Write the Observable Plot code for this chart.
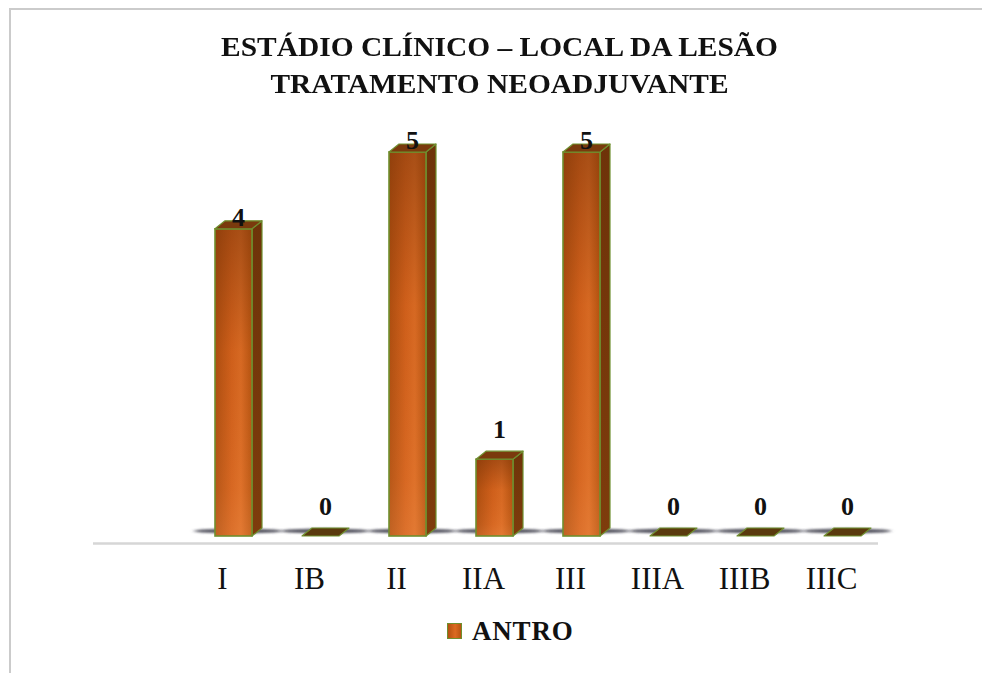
<!DOCTYPE html>
<html>
<head>
<meta charset="utf-8">
<script src="https://cdn.jsdelivr.net/npm/d3@7"></script>
<script src="https://cdn.jsdelivr.net/npm/@observablehq/plot@0.6"></script>
<style>
  body { margin: 0; background: #fff; }
  #page { position: relative; width: 982px; height: 673px; overflow: hidden; background: #fff; }
  #frame { position: absolute; left: 9px; top: 8px; right: -4px; bottom: -4px;
           border-left: 2px solid #cbcbcb; border-top: 2px solid #cbcbcb; }
  #title { position: absolute; left: 0; width: 999px; top: 29px; text-align: center;
           font-family: "Liberation Serif", "Times New Roman", serif; font-weight: bold;
           font-size: 27px; line-height: 37px; color: #111;
           transform: scaleX(1.09); transform-origin: 499.5px 0; }
  #chart { position: absolute; left: 0; top: 110px; }
  #legend { position: absolute; left: 447px; top: 618px; height: 26px;
            font-family: "Liberation Serif", "Times New Roman", serif; font-weight: bold;
            font-size: 27px; line-height: 26px; color: #111; white-space: nowrap; }
  #legend .swatch { position: absolute; left: 0; top: 5px; width: 13px; height: 14px;
            border: 1.5px solid #6f8f2f;
            background: linear-gradient(90deg, #b4500f, #dc6a20 55%, #b85410); }
  #legend .label { position: absolute; left: 25px; top: 0; letter-spacing: 0.8px; }
</style>
</head>
<body>
<!-- shared paint for the 3D bars -->
<svg width="0" height="0" style="position:absolute">
  <defs>
    <linearGradient id="frontGrad" x1="0" y1="0" x2="1" y2="0">
      <stop offset="0" stop-color="#b04f10"/>
      <stop offset="0.45" stop-color="#d4621c"/>
      <stop offset="0.7" stop-color="#dc6c24"/>
      <stop offset="1" stop-color="#b85410"/>
    </linearGradient>
    <linearGradient id="frontShade" x1="0" y1="0" x2="0" y2="1">
      <stop offset="0" stop-color="#6a2c06" stop-opacity="0.45"/>
      <stop offset="0.4" stop-color="#6a2c06" stop-opacity="0.05"/>
      <stop offset="0.85" stop-color="#ffb070" stop-opacity="0.08"/>
      <stop offset="1" stop-color="#ffb070" stop-opacity="0.2"/>
    </linearGradient>
    <linearGradient id="sideGrad" x1="0" y1="0" x2="0" y2="1">
      <stop offset="0" stop-color="#6e3309"/>
      <stop offset="1" stop-color="#7e3c0c"/>
    </linearGradient>
    <filter id="softShadow" x="-20%" y="-200%" width="140%" height="500%">
      <feGaussianBlur stdDeviation="2 1.2"/>
    </filter>
  </defs>
</svg>

<div id="page">
  <div id="frame"></div>
  <div id="title">ESTÁDIO CLÍNICO – LOCAL DA LESÃO<br>TRATAMENTO NEOADJUVANTE</div>
  <div id="chart"></div>
  <div id="legend"><span class="swatch"></span><span class="label">ANTRO</span></div>
</div>

<script>
// Clinical stage categories and patient counts (ANTRO)
const stages = ["I", "IB", "II", "IIA", "III", "IIIA", "IIIB", "IIIC"];
const antro = [4, 0, 5, 1, 5, 0, 0, 0];

const rows = stages.map((stage, i) => ({stage, value: antro[i]}));

// 3D box geometry, in pixels relative to the category position
const FRONT_L = -7, FRONT_R = 30;   // front face edges
const DEPTH_X = 10, DEPTH_Y = -8;   // receding depth
const EDGE = "#6f8f2f";             // green outline

function boxes(index, scales, values) {
  const y0 = scales.y(0);
  const g = d3.create("svg:g");
  // soft floor shadow behind each box
  for (const i of index) {
    const cx = values.x[i];
    g.append("ellipse")
      .attr("cx", cx + 16).attr("cy", y0 - 5)
      .attr("rx", 44).attr("ry", 2.4)
      .attr("fill", "#3e3e4c").attr("fill-opacity", 0.85)
      .attr("filter", "url(#softShadow)");
  }
  for (const i of index) {
    const cx = values.x[i], yv = values.y[i];
    const x1 = cx + FRONT_L, x2 = cx + FRONT_R;
    if (y0 - yv > 0.5) {
      // side face
      g.append("path")
        .attr("d", `M${x2},${y0}L${x2 + DEPTH_X},${y0 + DEPTH_Y}L${x2 + DEPTH_X},${yv + DEPTH_Y}L${x2},${yv}Z`)
        .attr("fill", "url(#sideGrad)").attr("stroke", EDGE).attr("stroke-width", 1.2)
        .attr("stroke-linejoin", "round");
      // front face
      g.append("rect")
        .attr("x", x1).attr("y", yv).attr("width", x2 - x1).attr("height", y0 - yv)
        .attr("fill", "url(#frontGrad)");
      g.append("rect")
        .attr("x", x1).attr("y", yv).attr("width", x2 - x1).attr("height", y0 - yv)
        .attr("fill", "url(#frontShade)").attr("stroke", EDGE).attr("stroke-width", 1.6);
      // top face
      g.append("path")
        .attr("d", `M${x1},${yv}L${x2},${yv}L${x2 + DEPTH_X},${yv + DEPTH_Y}L${x1 + DEPTH_X},${yv + DEPTH_Y}Z`)
        .attr("fill", "#7a3a0d").attr("stroke", EDGE).attr("stroke-width", 1.2)
        .attr("stroke-linejoin", "round");
    } else {
      // zero value: flat slab on the floor
      g.append("path")
        .attr("d", `M${x1},${y0}L${x2},${y0}L${x2 + DEPTH_X},${y0 + DEPTH_Y}L${x1 + DEPTH_X},${y0 + DEPTH_Y}Z`)
        .attr("fill", "#5a3a0e").attr("stroke", EDGE).attr("stroke-width", 1.2)
        .attr("stroke-linejoin", "round");
    }
  }
  return g.node();
}

const labelFont = {fontFamily: "Liberation Serif, Times New Roman, serif", fontWeight: "bold", fontSize: 26, fill: "#111"};

const chart = Plot.plot({
  width: 982,
  height: 490,
  marginTop: 20,
  marginLeft: 93,
  marginRight: 104,
  marginBottom: 57,
  style: {fontFamily: "Liberation Serif, Times New Roman, serif", color: "#111", background: "transparent"},
  x: {type: "point", domain: stages, range: [221, 832], padding: 0, axis: null},
  y: {domain: [0, 5], range: [426, 42], axis: null},
  marks: [
    Plot.ruleY([0], {dy: 7, stroke: "#d6d6d6", strokeWidth: 2.5}),
    Plot.axisX({tickSize: 0, tickPadding: 23, fontSize: 31, fill: "#111", label: null}),
    Plot.dot(rows, {x: "stage", y: "value", render: boxes}),
    Plot.text(rows, {filter: d => d.value >= 2, x: "stage", y: "value", text: d => String(d.value), dx: 16, dy: -12, ...labelFont}),
    Plot.text(rows, {filter: d => d.value < 2, x: "stage", y: "value", text: d => String(d.value), dx: 16, dy: -30, ...labelFont})
  ]
});

document.getElementById("chart").appendChild(chart);
</script>
</body>
</html>
